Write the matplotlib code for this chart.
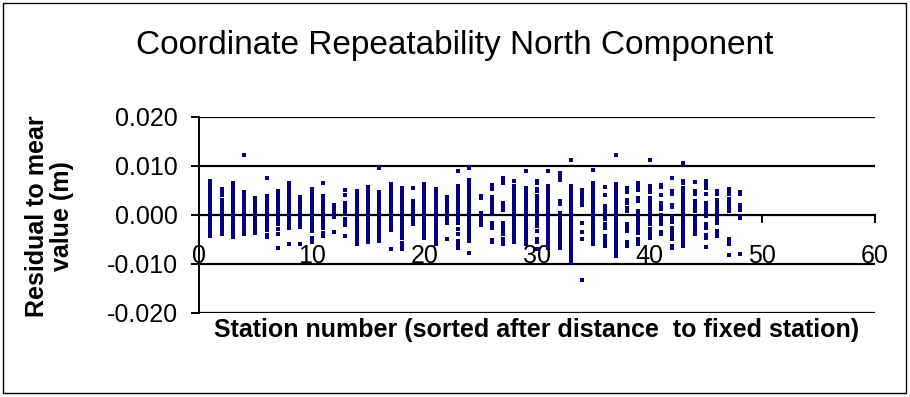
import numpy as np
import matplotlib.pyplot as plt
from matplotlib.patches import Rectangle

plt.rcParams['font.family'] = ['Liberation Sans', 'DejaVu Sans']

# Residuals (mm) for each station, stations numbered 1..48
residuals_mm = [
    [7.0, 6.5, 6.0, 5.5, 5.0, 4.5, 4.0, 3.5, 3.0, 2.3, 2.0, 1.5, 1.0, 0.5, 0.0, -0.5, -1.0, -1.5, -2.0, -2.5, -3.0, -3.5, -4.0, -4.3],
    [5.4, 5.0, 4.5, 4.0, 3.0, 2.5, 2.0, 1.5, 1.0, 0.5, 0.0, -0.5, -1.0, -1.5, -2.0, -2.5, -3.0, -3.5, -3.9],
    [6.5, 6.0, 5.3, 4.8, 4.3, 3.8, 3.3, 2.8, 2.3, 1.8, 1.3, 0.8, 0.3, -0.2, -0.7, -1.2, -1.7, -2.2, -2.7, -3.0, -3.6, -4.5],
    [12.2, 4.6, 4.1, 3.6, 3.1, 2.6, 2.1, 1.6, 1.1, 0.6, 0.1, -0.4, -0.9, -1.4, -1.8, -2.3, -2.8, -3.3, -3.8],
    [3.4, 2.9, 2.4, 1.9, 1.4, 0.9, 0.4, -0.1, -0.6, -1.1, -1.6, -2.1, -2.6, -3.1, -3.6],
    [7.5, 3.9, 3.4, 2.9, 2.4, 1.9, 1.4, 0.9, 0.4, -0.1, -0.6, -1.1, -1.6, -2.1, -2.4, -3.0, -4.0, -4.5],
    [4.9, 4.4, 3.9, 3.4, 2.9, 2.4, 1.9, 1.4, 0.9, 0.4, -0.1, -0.6, -1.1, -1.4, -1.9, -2.9, -3.9, -6.8],
    [6.5, 6.0, 5.1, 4.6, 4.1, 3.6, 3.1, 2.6, 2.1, 1.6, 1.1, 0.6, 0.1, -0.4, -0.9, -1.4, -1.9, -2.4, -2.7, -5.9],
    [3.6, 3.1, 2.6, 2.1, 1.6, 1.1, 0.6, 0.1, -0.4, -0.9, -1.4, -1.9, -2.4, -6.0],
    [5.3, 4.8, 4.3, 3.8, 3.3, 2.8, 2.3, 1.8, 1.3, 0.8, 0.3, -0.2, -0.7, -1.2, -1.7, -2.2, -2.7, -3.2, -4.6, -5.1, -5.5],
    [6.6, 3.9, 3.4, 2.9, 2.4, 1.9, 1.4, 0.9, 0.4, -0.1, -0.6, -1.1, -1.6, -2.1, -2.6, -3.6, -4.2],
    [2.0, 1.5, 1.0, 0.5, 0.0, -0.5, -3.4],
    [5.2, 4.0, 2.4, 1.8, 1.3, 0.5, -0.9, -1.4, -2.0, -4.3],
    [4.9, 4.4, 3.9, 3.4, 2.9, 2.4, 1.9, 1.4, 0.9, 0.4, -0.1, -0.6, -1.1, -1.6, -2.1, -2.6, -3.1, -3.6, -4.1, -4.6, -5.1, -5.6, -6.0],
    [5.7, 5.2, 4.7, 4.2, 3.5, 3.0, 2.5, 2.0, 1.5, 1.0, 0.5, 0.0, -0.5, -1.0, -1.5, -2.0, -2.5, -3.0, -3.5, -4.0, -4.5, -5.0, -5.6],
    [9.5, 4.6, 4.1, 3.6, 3.1, 2.6, 2.1, 1.6, 1.1, 0.6, 0.1, -0.4, -0.9, -1.4, -1.9, -2.4, -2.9, -3.4, -3.9, -4.4, -4.9, -5.3],
    [6.4, 5.9, 5.4, 4.9, 4.4, 3.9, 3.4, 2.9, 2.4, 1.9, 1.4, 0.9, 0.4, -0.1, -0.6, -1.1, -1.6, -2.1, -2.6, -3.0, -7.0],
    [5.5, 4.9, 4.4, 3.9, 3.4, 2.9, 2.4, 1.9, 1.4, 0.9, 0.4, -0.1, -0.6, -1.1, -1.6, -2.1, -2.6, -2.9, -3.6, -4.1, -4.6, -5.8, -6.5, -7.0],
    [5.6, 2.8, 2.3, 1.5, 1.0, 0.5, 0.0, -0.5, -1.0, -1.5, -1.9],
    [6.3, 5.8, 5.3, 4.8, 4.3, 3.8, 3.3, 2.8, 2.3, 1.8, 1.3, 0.8, 0.3, -0.2, -0.7, -1.2, -1.7, -2.2, -2.7, -3.2, -3.7, -4.2, -4.6],
    [5.4, 4.9, 4.4, 3.9, 3.4, 2.9, 2.4, 1.9, 1.4, 0.9, 0.4, -0.1, -0.6, -1.1, -1.6, -2.1, -2.6, -3.1, -3.6, -4.1, -4.6, -5.1, -5.6, -6.0],
    [3.6, 3.1, 2.5, 2.0, 1.5, 1.0, 0.5, 0.0, -0.5, -0.9, -1.7, -5.0],
    [9.0, 5.9, 5.4, 4.9, 4.4, 3.9, 3.4, 2.9, 2.4, 1.9, 1.4, 0.9, 0.4, -0.1, -0.6, -1.1, -1.6, -2.9, -3.9, -5.3, -6.0, -6.7],
    [9.5, 7.1, 6.6, 6.1, 5.6, 5.1, 4.6, 4.1, 3.6, 3.1, 2.6, 2.1, 1.6, 1.1, 0.6, 0.1, -0.4, -0.9, -1.4, -1.9, -2.4, -2.9, -3.4, -3.9, -4.4, -4.9, -5.3, -7.7],
    [3.9, 3.4, 0.4, -0.1, -0.6, -1.1, -1.6, -2.0],
    [6.1, 5.4, 3.7, 3.2, 2.7, 2.2, 1.7, 1.2, 0.7, 0.2, -1.6, -2.1, -2.7, -5.1, -5.6],
    [7.5, 7.0, 6.5, 2.4, 1.9, 1.5, 1.0, -1.6, -2.1, -2.6, -3.1, -3.6, -3.9, -5.0, -5.5, -6.0],
    [7.0, 6.0, 5.0, 4.2, 3.5, 2.8, 2.0, 1.2, 0.5, -0.2, -1.0, -1.8, -2.5, -3.2, -4.0, -4.8, -5.5],
    [9.0, 5.6, 5.1, 4.6, 4.1, 3.6, 3.1, 2.6, 2.1, 1.6, 1.1, 0.6, 0.1, -0.4, -0.9, -1.4, -1.9, -2.4, -2.9, -3.4, -3.9, -4.4, -4.9, -5.4, -6.0],
    [7.0, 6.6, 5.3, 4.8, 3.9, 3.4, 2.9, 2.4, 1.9, 1.4, 0.9, 0.4, -0.1, -0.6, -1.1, -1.6, -2.2, -3.2, -5.0, -5.6, -7.0],
    [9.0, 5.9, 5.4, 4.9, 4.4, 3.9, 3.4, 2.9, 2.4, 1.9, 1.4, 0.9, 0.4, -0.1, -0.6, -1.1, -1.6, -2.1, -2.6, -3.1, -3.6, -4.1, -4.6, -5.1, -5.6, -6.1, -6.7],
    [8.5, 8.0, 7.5, 7.1, 2.8, 2.3, 0.5, 0.0, -0.5, -1.0, -1.5, -2.0, -2.5, -3.0, -3.5, -4.0, -4.5, -5.0, -5.5, -6.0, -6.7],
    [11.3, 5.9, 5.4, 4.9, 4.4, 3.9, 3.4, 2.9, 2.4, 1.9, 1.4, 0.9, 0.4, -0.1, -0.6, -1.1, -1.6, -2.1, -2.6, -3.1, -3.6, -4.1, -4.6, -5.1, -5.6, -6.1, -6.6, -7.1, -7.6, -8.1, -8.6, -9.1, -9.7],
    [5.1, 4.5, 3.8, 3.3, 2.6, 2.1, -1.6, -3.4, -5.0, -13.3],
    [9.2, 6.6, 6.1, 5.6, 5.1, 4.6, 4.1, 3.6, 3.1, 2.6, 2.1, 1.6, 1.1, 0.6, 0.1, -0.4, -0.9, -1.4, -1.9, -2.4, -2.9, -3.4, -3.9, -4.4, -4.9, -5.4, -6.0],
    [5.7, 4.0, 1.8, 1.3, 0.8, 0.3, -0.2, -0.9, -1.9, -2.6, -4.3, -4.8, -5.3, -5.8, -6.3],
    [12.2, 6.3, 5.8, 5.3, 4.8, 4.3, 3.8, 3.3, 2.8, 2.3, 1.8, 1.3, 0.8, 0.3, -0.2, -0.7, -1.2, -1.7, -2.2, -2.7, -3.2, -3.7, -4.2, -4.7, -5.2, -5.7, -6.2, -6.7, -7.2, -7.7, -8.4],
    [5.5, 4.7, 3.1, 2.4, 1.5, 0.8, -1.9, -2.6, -3.3, -5.6, -6.3],
    [6.5, 6.0, 5.5, 5.0, 3.4, 2.9, 0.8, 0.3, -0.2, -0.7, -1.2, -1.7, -2.2, -3.0, -3.6, -5.0, -5.5, -6.0],
    [11.2, 5.9, 5.3, 4.7, 3.4, 2.9, 2.4, 1.9, 1.4, 0.9, 0.4, -0.1, -0.6, -1.1, -1.6, -1.9, -2.9, -3.4, -4.0, -4.6],
    [6.2, 5.7, 4.0, 2.4, 1.8, 1.2, 0.1, -0.5, -1.0, -1.6, -1.9, -3.4, -3.9],
    [7.5, 4.8, 4.3, 2.1, 1.6, -0.5, -1.1, -1.4, -2.6, -3.1, -3.9, -4.5, -5.0, -6.3, -6.7],
    [10.7, 7.0, 6.6, 5.6, 5.1, 4.6, 4.1, 3.6, 3.1, 2.6, 2.1, 1.6, 1.1, 0.6, 0.1, -0.4, -0.9, -1.4, -1.9, -2.4, -2.9, -3.4, -3.9, -4.3, -5.0, -5.6, -6.3],
    [6.8, 4.8, 4.2, 2.9, 2.4, 1.9, 1.4, 0.8, -0.7, -1.2, -1.7, -2.2, -2.7, -3.2, -3.9],
    [6.9, 6.3, 5.6, 4.2, 2.5, 2.0, 1.5, 1.0, 0.5, 0.0, -0.2, -1.9, -2.6, -4.0, -4.6, -6.5],
    [4.8, 4.2, 3.1, 2.6, 2.1, 1.6, 1.2, 0.4, -0.1, -0.6, -1.1, -1.6, -3.3, -3.8, -4.3],
    [5.3, 4.7, 4.2, 3.3, 2.8, 2.3, 1.8, 1.3, 0.8, -5.0, -5.5, -6.0, -8.2],
    [4.7, 4.2, 2.0, 1.5, 1.0, -0.2, -0.6, -7.9],
]

x_ticks = [0, 10, 20, 30, 40, 50, 60]
y_ticks = [-0.02, -0.01, 0.0, 0.01, 0.02]

stations = []
values = []
for i, res in enumerate(residuals_mm):
    stations += [i + 1] * len(res)
    values += [r / 1000.0 for r in res]

fig = plt.figure(figsize=(9.1, 3.97), dpi=100)
ax = fig.add_axes([0.2187, 0.2116, 0.7428, 0.4937])

ax.plot(stations, values, linestyle='none', marker='s', markersize=2.4,
        markeredgewidth=0, color='#000080', zorder=3)

ax.set_xlim(0, 60)
ax.set_ylim(-0.02, 0.02)
ax.set_xticks(x_ticks)
ax.set_yticks(y_ticks)
ax.set_yticklabels([f"{v:.3f}" for v in y_ticks])

# horizontal gridlines, x axis crossing at zero
for v in y_ticks:
    if v != 0:
        ax.axhline(v, color='black', lw=1.6, zorder=1)
ax.spines['bottom'].set_position(('data', 0))
ax.spines['bottom'].set_linewidth(1.6)
ax.spines['left'].set_linewidth(1.4)
ax.spines['top'].set_visible(False)
ax.spines['right'].set_visible(False)

ax.tick_params(axis='y', direction='out', length=6, width=1.4, pad=9, labelsize=18)
ax.tick_params(axis='x', direction='out', length=6, width=1.4, pad=15, labelsize=18)
for lbl in ax.get_xticklabels():
    lbl.set_zorder(5)

fig.text(0.5, 0.885, "Coordinate Repeatability North Component", ha='center', va='center', fontsize=24)
fig.text(0.054, 0.456, "Residual to mear\nvalue (m)", ha='center', va='center', rotation=90,
         fontsize=18, fontweight='bold', linespacing=1.05)
fig.text(0.590, 0.169, "Station number (sorted after distance  to fixed station)", ha='center', va='center',
         fontsize=18, fontweight='bold')

# chart border
fig.patches.append(Rectangle((0.0035, 0.01), 0.992, 0.982, transform=fig.transFigure,
                             fill=False, edgecolor='black', lw=1))

fig.savefig("out.png", dpi=100)
